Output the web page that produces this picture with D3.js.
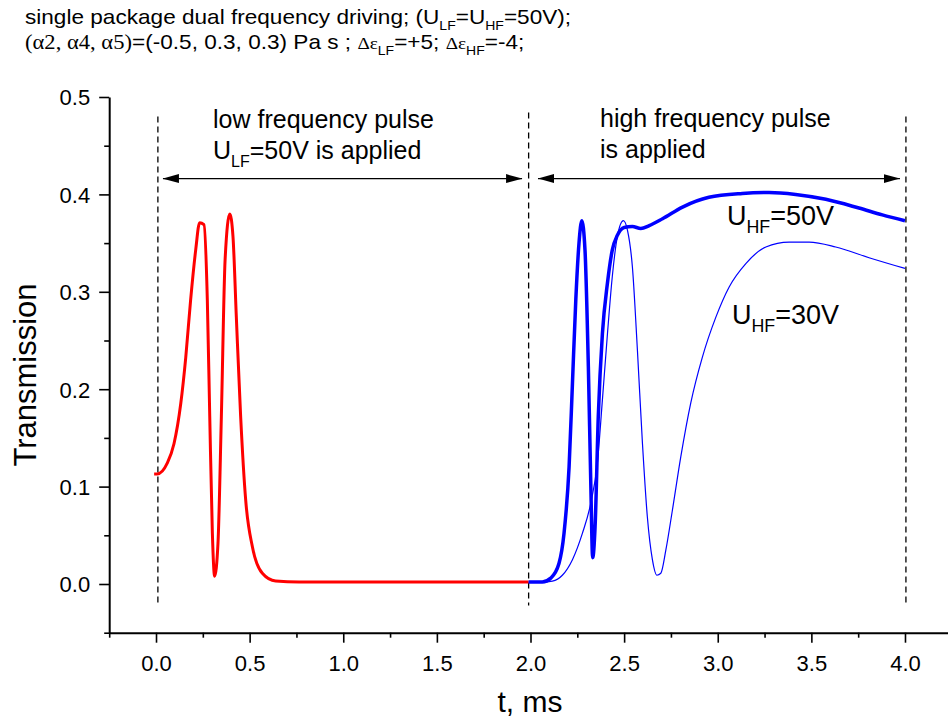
<!DOCTYPE html>
<html><head><meta charset="utf-8">
<script src="https://cdn.jsdelivr.net/npm/d3@7"></script>
<style>
body{margin:0;background:#fff}
svg{display:block}
text{font-family:"Liberation Sans",Arial,sans-serif;fill:#000}
</style>
</head><body>
<svg id="chart" width="948" height="720"></svg>
<script>
// ---------------- data ----------------
const redT = [-0.01,0.007,0.06,0.096,0.132,0.159,0.185,0.212,0.233,0.256,0.274,0.287,0.301,0.313,0.331,0.349,0.369,0.394,0.411,0.429,0.452,0.479,0.515,0.568,0.639,0.764,1.0,1.5,1.99];
const redV = [0.113,0.113,0.124,0.144,0.185,0.233,0.292,0.343,0.371,0.369,0.292,0.172,0.052,0.008,0.042,0.172,0.333,0.380,0.357,0.274,0.172,0.086,0.038,0.011,0.003,0.002,0.002,0.002,0.002];

const hf50T = [1.99,2.063,2.108,2.152,2.179,2.206,2.224,2.242,2.259,2.274,2.291,2.309,2.322,2.332,2.345,2.362,2.384,2.411,2.437,2.464,2.500,2.544,2.589,2.634,2.705,2.812,2.953,3.131,3.274,3.416,3.577,3.754,3.879,4.0];
const hf50V = [0.002,0.002,0.006,0.021,0.052,0.120,0.206,0.292,0.350,0.373,0.343,0.223,0.103,0.027,0.059,0.172,0.257,0.309,0.343,0.358,0.366,0.367,0.365,0.368,0.375,0.387,0.397,0.401,0.402,0.400,0.395,0.386,0.379,0.373];

const hf30T = [1.99,2.063,2.117,2.170,2.224,2.277,2.322,2.357,2.384,2.411,2.437,2.464,2.496,2.518,2.544,2.571,2.598,2.624,2.651,2.675,2.696,2.723,2.758,2.803,2.856,2.918,2.990,3.061,3.150,3.257,3.381,3.488,3.630,3.808,4.0];
const hf30V = [0.002,0.002,0.003,0.009,0.025,0.052,0.083,0.124,0.189,0.257,0.316,0.357,0.373,0.363,0.326,0.240,0.144,0.069,0.025,0.009,0.011,0.035,0.076,0.131,0.186,0.233,0.274,0.305,0.329,0.346,0.351,0.351,0.346,0.335,0.324];

const xMajor = [0,0.5,1.0,1.5,2.0,2.5,3.0,3.5,4.0];
const xTickLabels = ["0.0","0.5","1.0","1.5","2.0","2.5","3.0","3.5","4.0"];
const xMinor = [-0.25,0.25,0.75,1.25,1.75,2.25,2.75,3.25,3.75,4.25];
const yMajor = [0,0.1,0.2,0.3,0.4,0.5];
const yTickLabels = ["0.0","0.1","0.2","0.3","0.4","0.5"];
const yMinor = [-0.05,0.05,0.15,0.25,0.35,0.45];
const dashT = [0.01,1.99,4.005];

// ---------------- setup ----------------
const svg = d3.select("#chart");
const x = d3.scaleLinear().domain([-0.25,4.25]).range([109.2,951.8]);
const y = d3.scaleLinear().domain([-0.05,0.5]).range([632.7,97]);

const SANS = '"Liberation Sans",Arial,sans-serif';
const SERIF = '"Liberation Serif","Times New Roman",serif';

function rich(parent, px, py, size, parts, sx, subScale) {
  const t = parent.append("text")
    .attr("transform", `translate(${px},${py}) scale(${sx||1},1)`)
    .attr("font-size", size);
  let shift = 0;
  parts.forEach(p => {
    const ts = t.append("tspan").text(p.t);
    let target = p.sub ? size*0.3 : 0;
    if (target !== shift) { ts.attr("dy", target - shift); shift = target; }
    if (p.sub) ts.attr("font-size", size*(subScale||0.62));
    if (p.serif) ts.attr("font-family", SERIF);
    if (p.scale) ts.attr("font-size", size*p.scale);
  });
  return t;
}

// markers
const defs = svg.append("defs");
defs.append("marker").attr("id","ah")
  .attr("viewBox","0 0 16 10").attr("refX",16).attr("refY",5)
  .attr("markerWidth",16).attr("markerHeight",10)
  .attr("markerUnits","userSpaceOnUse").attr("orient","auto-start-reverse")
  .append("path").attr("d","M0,0.5 L16,5 L0,9.5 Z").attr("fill","#000");

// ---------------- axes ----------------
const xAxis = svg.append("g").attr("transform",`translate(0,${y(-0.05)})`)
  .call(d3.axisBottom(x).tickValues(xMajor).tickSize(10).tickSizeOuter(0)
        .tickFormat((d,i)=>xTickLabels[i]));
xAxis.select(".domain").attr("stroke-width",2);
xAxis.selectAll(".tick line").attr("stroke-width",1.6);
xAxis.selectAll(".tick text").attr("font-size",22).attr("font-family",SANS)
  .attr("y",38).attr("dy",null);
svg.append("g").attr("transform",`translate(0,${y(-0.05)})`)
  .call(d3.axisBottom(x).tickValues(xMinor).tickSize(5).tickSizeOuter(0).tickFormat(""))
  .call(g=>{g.select(".domain").remove(); g.selectAll(".tick line").attr("stroke-width",1.6);});

const yAxis = svg.append("g").attr("transform",`translate(${x(-0.25)},0)`)
  .call(d3.axisLeft(y).tickValues(yMajor).tickSize(10).tickSizeOuter(0)
        .tickFormat((d,i)=>yTickLabels[i]));
yAxis.select(".domain").attr("stroke-width",2);
yAxis.selectAll(".tick line").attr("stroke-width",1.6);
yAxis.selectAll(".tick text").attr("font-size",22).attr("font-family",SANS)
  .attr("x",-19).attr("dy","0.36em");
svg.append("g").attr("transform",`translate(${x(-0.25)},0)`)
  .call(d3.axisLeft(y).tickValues(yMinor).tickSize(5).tickSizeOuter(0).tickFormat(""))
  .call(g=>{g.select(".domain").remove(); g.selectAll(".tick line").attr("stroke-width",1.6);});

// axis titles
svg.append("text").attr("x",530).attr("y",712).attr("text-anchor","middle")
  .attr("font-size",30).text("t, ms");
svg.append("text").attr("transform","translate(36,375) rotate(-90)")
  .attr("text-anchor","middle").attr("font-size",31).text("Transmission");

// ---------------- dashed verticals & arrows ----------------
svg.selectAll("line.dash").data(dashT).enter().append("line")
  .attr("class","dash")
  .attr("x1",d=>x(d)).attr("x2",d=>x(d))
  .attr("y1",(d,i)=>y(i===1?0.484:0.480)).attr("y2",y(-0.022))
  .attr("stroke","#000").attr("stroke-width",1.3).attr("stroke-dasharray","6,4");

const arrows = [[0.037,1.955],[2.04,3.973]];
svg.selectAll("line.arr").data(arrows).enter().append("line")
  .attr("class","arr")
  .attr("x1",d=>x(d[0])).attr("x2",d=>x(d[1]))
  .attr("y1",y(0.4162)).attr("y2",y(0.4162))
  .attr("stroke","#000").attr("stroke-width",1.3)
  .attr("marker-start","url(#ah)").attr("marker-end","url(#ah)");

// ---------------- curves ----------------
const line = d3.line().x(d=>x(d[0])).y(d=>y(d[1])).curve(d3.curveMonotoneX);
const zip = (a,b)=>a.map((v,i)=>[v,b[i]]);
svg.append("path").datum(zip(hf30T,hf30V)).attr("d",line)
  .attr("fill","none").attr("stroke","#0000ff").attr("stroke-width",1.2);
svg.append("path").datum(zip(redT,redV)).attr("d",line)
  .attr("fill","none").attr("stroke","#ff0000").attr("stroke-width",3).attr("stroke-linejoin","round");
svg.append("path").datum(zip(hf50T,hf50V)).attr("d",line)
  .attr("fill","none").attr("stroke","#0000ff").attr("stroke-width",3.5).attr("stroke-linejoin","round");

// ---------------- annotations ----------------
rich(svg,213,128,25,[{t:"low frequency pulse"}]);
rich(svg,213,159,25,[{t:"U"},{t:"LF",sub:true},{t:"=50V is applied"}],1,0.64);
rich(svg,600,127,25,[{t:"high frequency pulse"}]);
rich(svg,600,158,25,[{t:"is applied"}]);
rich(svg,727,225,27,[{t:"U"},{t:"HF",sub:true},{t:"=50V"}],1,0.66);
rich(svg,732,324,27,[{t:"U"},{t:"HF",sub:true},{t:"=30V"}],1,0.66);

// ---------------- title ----------------
rich(svg,25,24,20,[{t:"single package dual frequency driving; (U"},{t:"LF",sub:true},{t:"=U"},{t:"HF",sub:true},{t:"=50V);"}],1.13);
rich(svg,25,49,20,[{t:"(\u03b12, \u03b14, \u03b15)",serif:true},{t:"=(-0.5, 0.3, 0.3) Pa s ; "},
  {t:"\u0394\u03b5",serif:true,scale:0.85},{t:"LF",sub:true},{t:"=+5; "},
  {t:"\u0394\u03b5",serif:true,scale:0.85},{t:"HF",sub:true},{t:"=-4;"}],1.13);
</script>
</body></html>
